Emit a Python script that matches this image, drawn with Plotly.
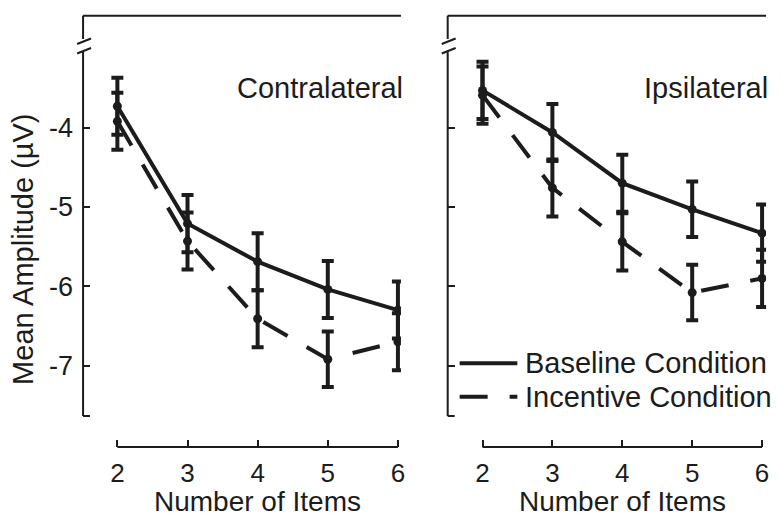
import plotly.graph_objects as go

# ---- data: mean amplitude (µV) and standard error per set size ----
set_sizes = [2, 3, 4, 5, 6]

contra_baseline = [-3.73, -5.21, -5.69, -6.04, -6.30]
contra_baseline_se = [0.36, 0.36, 0.36, 0.36, 0.36]
contra_incentive = [-3.92, -5.43, -6.41, -6.92, -6.70]
contra_incentive_se = [0.36, 0.36, 0.36, 0.35, 0.36]

ipsi_baseline = [-3.53, -4.06, -4.70, -5.03, -5.33]
ipsi_baseline_se = [0.36, 0.36, 0.36, 0.35, 0.36]
ipsi_incentive = [-3.59, -4.76, -5.44, -6.08, -5.90]
ipsi_incentive_se = [0.36, 0.36, 0.36, 0.35, 0.36]

y_tick_vals = [-4, -5, -6, -7]
y_tick_text = ["-4", "-5", "-6", "-7"]
x_tick_vals = [2, 3, 4, 5, 6]
x_tick_text = ["2", "3", "4", "5", "6"]

panel_titles = ["Contralateral", "Ipsilateral"]
series_names = ["Baseline Condition", "Incentive Condition"]
x_title = "Number of Items"
y_title = "Mean Amplitude (µV)"

# ---- styling ----
W, H = 782, 517
INK = "#1c1c1c"
FONT = "Liberation Sans, Arial, Helvetica, sans-serif"
DASH = "28px,22px"


def px(x):
    return x / W


def py(y):
    return 1 - y / H


fig = go.Figure()

panels = [
    dict(xa="x", ya="y", data=[(contra_baseline, contra_baseline_se),
                               (contra_incentive, contra_incentive_se)]),
    dict(xa="x2", ya="y2", data=[(ipsi_baseline, ipsi_baseline_se),
                                 (ipsi_incentive, ipsi_incentive_se)]),
]

for p in panels:
    for (vals, se), name, dash in zip(p["data"], series_names, ["solid", DASH]):
        fig.add_trace(go.Scatter(
            x=set_sizes, y=vals, name=name, xaxis=p["xa"], yaxis=p["ya"],
            mode="lines+markers", showlegend=False,
            line=dict(color=INK, width=4, dash=dash),
            marker=dict(color=INK, size=9),
            error_y=dict(type="data", array=se, visible=True,
                         color=INK, thickness=4, width=6),
        ))

# axis geometry (pixel positions of the frame)
left_axes = [83.5, 450]
right_ends = [403, 770]
y_top_px, y_bot_px = 15.7, 416
x_axis_px = 447

xranges = [[1.511, 6.043], [1.502, 6.057]]
yrange = [-7.636, -2.588]

common_x = dict(showgrid=False, zeroline=False, showline=False,
                ticks="inside", ticklen=7, tickwidth=2, tickcolor=INK,
                tickvals=x_tick_vals, ticktext=x_tick_text,
                tickfont=dict(family=FONT, size=26, color=INK),
                anchor="free", position=py(x_axis_px), ticklabelstandoff=8)
common_y = dict(showgrid=False, zeroline=False, showline=False,
                ticks="inside", ticklen=7, tickwidth=2, tickcolor=INK,
                tickvals=y_tick_vals, ticktext=y_tick_text, range=yrange,
                domain=[py(y_bot_px), py(y_top_px)],
                tickfont=dict(family=FONT, size=27, color=INK))

fig.update_layout(
    xaxis=dict(common_x, domain=[px(left_axes[0]), px(right_ends[0])], range=xranges[0]),
    xaxis2=dict(common_x, domain=[px(left_axes[1]), px(right_ends[1])], range=xranges[1]),
    yaxis=dict(common_y, anchor="x", ticklabelstandoff=9),
    yaxis2=dict(common_y, anchor="x2", showticklabels=False),
)

shapes = []
line_style = dict(color=INK, width=2)
for a, r, xa in zip(left_axes, right_ends, ["x", "x2"]):
    segs = [
        (a, y_top_px, r, y_top_px),        # top frame line
        (a, y_top_px, a, 39),              # axis stub above the break
        (a, 52, a, y_bot_px),              # main axis below the break
        (a - 6, 44, a + 8, 38.5),          # break mark
        (a - 6, 53.5, a + 8, 48),          # break mark
        (a, y_bot_px, a + 7, y_bot_px),    # axis end tick
    ]
    for x0, y0, x1, y1 in segs:
        shapes.append(dict(type="line", xref="paper", yref="paper",
                           x0=px(x0), y0=py(y0), x1=px(x1), y1=py(y1),
                           line=line_style))
    # detached x axis spanning the first to last set size
    shapes.append(dict(type="line", xref=xa, yref="paper",
                       x0=set_sizes[0], x1=set_sizes[-1],
                       y0=py(x_axis_px), y1=py(x_axis_px), line=line_style))

# legend samples
shapes.append(dict(type="line", xref="paper", yref="paper",
                   x0=px(462), x1=px(520), y0=py(363.3), y1=py(363.3),
                   line=dict(color=INK, width=4)))
shapes.append(dict(type="line", xref="paper", yref="paper",
                   x0=px(462), x1=px(520), y0=py(396.7), y1=py(396.7),
                   line=dict(color=INK, width=4, dash=DASH)))

annotations = []
txt = dict(family=FONT, size=29, color=INK)
for title, r in zip(panel_titles, right_ends):
    annotations.append(dict(text=title, xref="paper", yref="paper",
                            x=px(r + 4), y=py(88), xanchor="right", yanchor="middle",
                            showarrow=False, font=txt))
for name, yy in zip(series_names, [363.3, 396.7]):
    annotations.append(dict(text=name, xref="paper", yref="paper",
                            x=px(526), y=py(yy), xanchor="left", yanchor="middle",
                            showarrow=False, font=txt))
for xa in ["x", "x2"]:
    annotations.append(dict(text=x_title, xref=xa, yref="paper",
                            x=4, y=py(501.5), xanchor="center", yanchor="middle",
                            showarrow=False, font=dict(txt, size=28)))
annotations.append(dict(text=y_title, xref="paper", yref="paper",
                        x=px(23), y=py(249), xanchor="center", yanchor="middle",
                        textangle=-90, showarrow=False, font=txt))

fig.update_layout(
    width=W, height=H,
    margin=dict(l=0, r=0, t=0, b=0),
    paper_bgcolor="white", plot_bgcolor="white",
    shapes=shapes, annotations=annotations,
    showlegend=False,
)

fig.write_html("out.html")
